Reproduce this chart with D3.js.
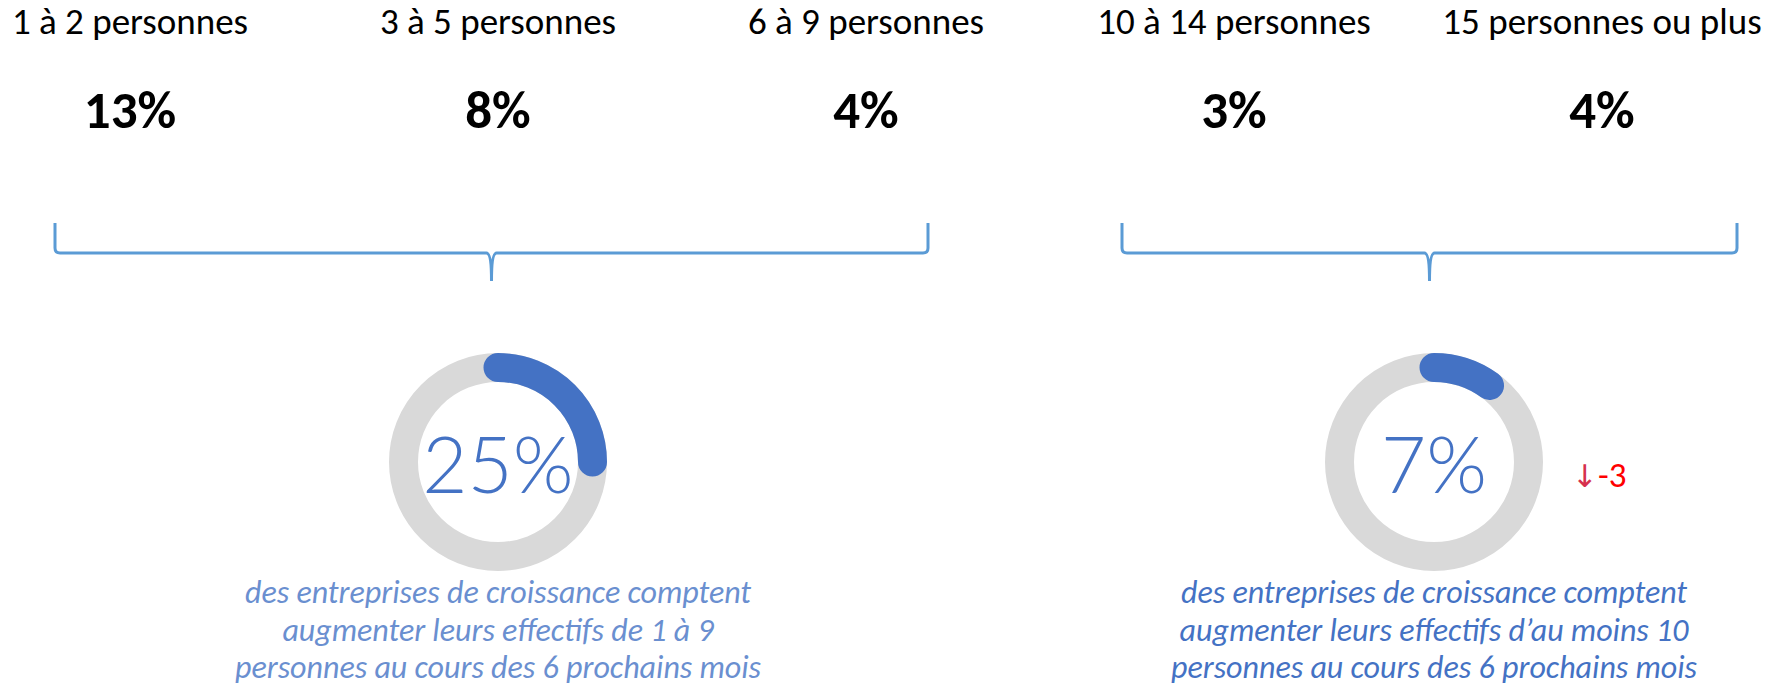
<!DOCTYPE html>
<html>
<head>
<meta charset="utf-8">
<script src="https://cdn.jsdelivr.net/npm/d3@7"></script>
<style>
  html, body { margin: 0; padding: 0; background: #fff; }
  svg { display: block; }
  text { font-family: Calibri, Carlito, "Open Sans", sans-serif; }
</style>
</head>
<body>
<div id="chart"></div>
<script>
// Croissance des effectifs — répartition par taille d'embauche + deux jauges

var CATEGORIES = ["1 à 2 personnes", "3 à 5 personnes", "6 à 9 personnes", "10 à 14 personnes", "15 personnes ou plus"];
var CATEGORY_SHARES = [13, 8, 4, 3, 4];

var GROUP_TOTALS = [25, 7];      // labels in the gauges
var GROUP_ARCS = [25, 10];       // arc length as drawn in the gauges (%)
var GROUP_CHANGES = [null, -3];
var GROUP_CAPTIONS = [
  ["des entreprises de croissance comptent", "augmenter leurs effectifs de 1 à 9", "personnes au cours des 6 prochains mois"],
  ["des entreprises de croissance comptent", "augmenter leurs effectifs d’au moins 10", "personnes au cours des 6 prochains mois"]
];

var W = 1786, H = 686;
var BLUE = "#4472c4", GREY = "#d9d9d9", BRACE = "#5b9bd5";
var CAPTION_COLORS = ["#6a8fd0", "#4472c4"];

// layout of the two groups (brace extents and gauge centres)
var BRACE_LEFT = [55, 1122], BRACE_RIGHT = [928, 1737];
var GAUGE_CX = [498, 1434], GAUGE_CY = 462;
var R_OUT = 109, R_IN = 80;

var svg = d3.select("#chart").append("svg")
  .attr("width", W).attr("height", H)
  .attr("viewBox", "0 0 " + W + " " + H);

var x = d3.scalePoint().domain(CATEGORIES).range([130, 1602]);
var angle = d3.scaleLinear().domain([0, 100]).range([0, 2 * Math.PI]);

// category labels + shares
svg.selectAll("text.cat")
  .data(CATEGORIES)
  .enter().append("text")
  .attr("class", "cat")
  .attr("x", function (d) { return x(d); })
  .attr("y", 34)
  .attr("text-anchor", "middle")
  .attr("font-size", 37)
  .attr("fill", "#000")
  .text(function (d) { return d; });

svg.selectAll("text.share")
  .data(CATEGORY_SHARES)
  .enter().append("text")
  .attr("class", "share")
  .attr("x", function (d, i) { return x(CATEGORIES[i]); })
  .attr("y", 128)
  .attr("text-anchor", "middle")
  .attr("font-size", 53)
  .attr("font-weight", 700)
  .attr("fill", "#000")
  .text(function (d) { return d + "%"; });

// braces
var TOP = 223, MID = 253, TIP = 281;
function bracePath(x0, x1, cx) {
  var p = d3.path(), r = 5, n = 5;
  p.moveTo(x0, TOP);
  p.lineTo(x0, MID - r);
  p.quadraticCurveTo(x0, MID, x0 + r, MID);
  p.lineTo(cx - n, MID);
  p.quadraticCurveTo(cx, MID, cx, TIP);
  p.quadraticCurveTo(cx, MID, cx + n, MID);
  p.lineTo(x1 - r, MID);
  p.quadraticCurveTo(x1, MID, x1, MID - r);
  p.lineTo(x1, TOP);
  return p.toString();
}

var groups = GROUP_TOTALS.map(function (v, i) { return i; });

svg.selectAll("path.brace")
  .data(groups)
  .enter().append("path")
  .attr("class", "brace")
  .attr("d", function (i) { return bracePath(BRACE_LEFT[i], BRACE_RIGHT[i], (BRACE_LEFT[i] + BRACE_RIGHT[i]) / 2); })
  .attr("fill", "none")
  .attr("stroke", BRACE)
  .attr("stroke-width", 3);

// gauges
var rMid = (R_OUT + R_IN) / 2, thick = R_OUT - R_IN;
var gauge = svg.selectAll("g.gauge")
  .data(groups)
  .enter().append("g")
  .attr("class", "gauge")
  .attr("transform", function (i) { return "translate(" + GAUGE_CX[i] + "," + GAUGE_CY + ")"; });

gauge.append("circle")
  .attr("r", rMid)
  .attr("fill", "none")
  .attr("stroke", GREY)
  .attr("stroke-width", thick);

gauge.append("path")
  .attr("d", function (i) {
    var p = d3.path();
    p.arc(0, 0, rMid, -Math.PI / 2, -Math.PI / 2 + angle(GROUP_ARCS[i]));
    return p.toString();
  })
  .attr("fill", "none")
  .attr("stroke", BLUE)
  .attr("stroke-width", thick)
  .attr("stroke-linecap", "round");

gauge.append("text")
  .attr("x", 0)
  .attr("y", 31)
  .attr("text-anchor", "middle")
  .attr("font-size", 78)
  .attr("font-weight", 300)
  .style("font-family", "'Century Gothic', 'URW Gothic', Lato, 'Open Sans', sans-serif")
  .attr("fill", BLUE)
  .text(function (i) { return GROUP_TOTALS[i] + "%"; });

// change indicator
var change = gauge.filter(function (i) { return GROUP_CHANGES[i] !== null; })
  .append("text")
  .attr("x", 138)
  .attr("y", 25)
  .attr("font-size", 35);
change.append("tspan")
  .attr("fill", "#d6304d")
  .style("font-family", "'Segoe UI Symbol', 'DejaVu Sans', sans-serif")
  .attr("font-size", 31)
  .text("↓");
change.append("tspan")
  .attr("fill", "#ff0000")
  .text(function (i) { return String(GROUP_CHANGES[i]); });

// captions
gauge.each(function (i) {
  var t = d3.select(this).append("text")
    .attr("text-anchor", "middle")
    .attr("font-size", 32)
    .attr("font-style", "italic")
    .attr("fill", CAPTION_COLORS[i]);
  t.selectAll("tspan")
    .data(GROUP_CAPTIONS[i])
    .enter().append("tspan")
    .attr("x", 0)
    .attr("y", function (d, k) { return 141 + k * 37.5; })
    .text(function (d) { return d; });
});
</script>
</body>
</html>
